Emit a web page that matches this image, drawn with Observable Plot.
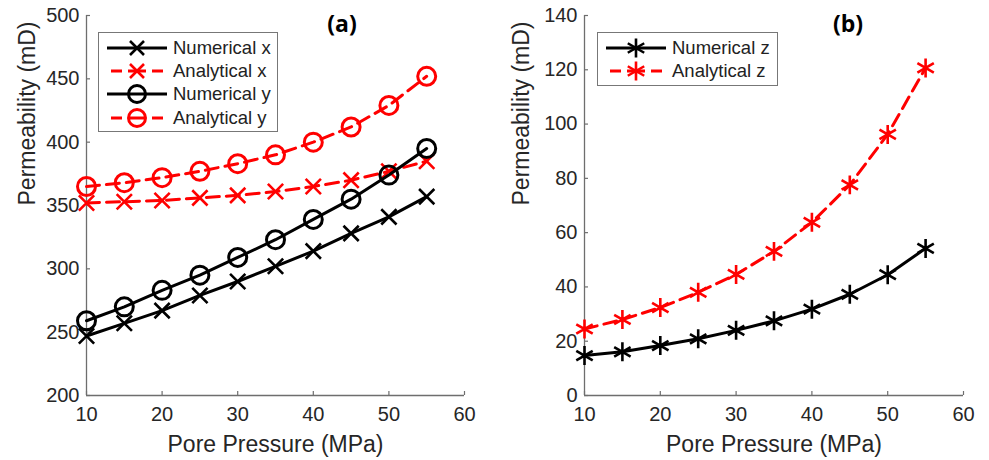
<!DOCTYPE html>
<html>
<head>
<meta charset="utf-8">
<script src="https://cdn.jsdelivr.net/npm/d3@7"></script>
<script src="https://cdn.jsdelivr.net/npm/@observablehq/plot@0.6"></script>
<style>
  body { margin: 0; background: #fff; font-family: "Liberation Sans", Arial, sans-serif; }
  #wrap { position: relative; width: 989px; height: 460px; display: flex; }
  .panel { position: relative; }
  .tag { position: absolute; font-family: "Open Sans", "Liberation Sans", sans-serif; font-weight: bold; font-size: 23px; color: #000; transform: translate(-50%, -50%); white-space: nowrap; }
  .legend { position: absolute; border: 1.5px solid #777; background: #fff; box-sizing: border-box; }
  .legend .row { display: flex; align-items: center; height: 23.3px; font-size: 18.5px; color: #222; white-space: nowrap; }
  .legend svg { display: block; margin: 0 6px 0 8px; }
</style>
</head>
<body>
<div id="wrap"></div>
<script>
// ---- data ----
const pressure = [10, 15, 20, 25, 30, 35, 40, 45, 50, 55];
const numericalX  = [247, 257, 267, 279, 290, 302, 314, 328, 341, 357];
const analyticalX = [352, 353, 354, 356, 358, 361, 365, 370, 377, 385];
const numericalY  = [259, 270, 283, 295, 309, 323, 339, 355, 374, 395];
const analyticalY = [365, 368, 372, 377, 383, 390, 400, 412, 429, 452];
const numericalZ  = [14.7, 16.1, 18.4, 20.9, 24.0, 27.5, 31.8, 37.3, 44.5, 54.2];
const analyticalZ = [24.5, 28.0, 32.4, 38.0, 44.6, 53.1, 63.8, 77.6, 96.2, 120.7];
const xTicks = [10, 20, 30, 40, 50, 60];
const yTicksA = [200, 250, 300, 350, 400, 450, 500];
const yTicksB = [0, 20, 40, 60, 80, 100, 120, 140];

const RED = "#ff0000", BLACK = "#000000", AXIS = "#6e6e6e", TXT = "#262626";
const DASH = "13,7";

function table(ys) { return pressure.map((p, i) => ({p, v: ys[i]})); }

function seriesMarks(ys, color, symbol, dashed, r) {
  const d = table(ys);
  const marks = [
    Plot.line(d, {x: "p", y: "v", stroke: color, strokeWidth: 3, strokeDasharray: dashed ? DASH : null})
  ];
  if (symbol === "circle") {
    marks.push(Plot.dot(d, {x: "p", y: "v", r, stroke: color, strokeWidth: 3, fill: "none"}));
  } else {
    marks.push(Plot.dot(d, {x: "p", y: "v", r, symbol, stroke: color, strokeWidth: 2.6, fill: "none"}));
  }
  return marks;
}

function panel({width, ml, mr, domain, ticks, series}) {
  return Plot.plot({
    width, height: 460,
    marginLeft: ml, marginRight: mr, marginTop: 15, marginBottom: 65,
    style: {fontFamily: "Liberation Sans, Arial, sans-serif", fontSize: "20px", color: TXT, background: "#fff", overflow: "visible"},
    x: {domain: [10, 60], ticks: xTicks, label: null},
    y: {domain, ticks, label: null},
    marks: [
      Plot.ruleY([domain[0]], {stroke: AXIS, strokeWidth: 1.3}),
      Plot.ruleX([10], {stroke: AXIS, strokeWidth: 1.3}),
      Plot.axisX({ticks: xTicks, tickSize: -4, stroke: AXIS, strokeWidth: 1.2, tickPadding: 15, fontSize: 20, fill: TXT, label: null}),
      Plot.axisY({ticks, tickSize: -4, stroke: AXIS, strokeWidth: 1.2, tickPadding: 11, fontSize: 20, fill: TXT, label: null}),
      Plot.text(["Pore Pressure (MPa)"], {frameAnchor: "bottom", dy: 56, fontSize: 23, fill: TXT}),
      Plot.text(["Permeability (mD)"], {frameAnchor: "left", dx: -(ml - 27), rotate: -90, fontSize: 23, fill: TXT}),
      ...series
    ]
  });
}

function legendBox(items, left, top, width) {
  const box = document.createElement("div");
  box.className = "legend";
  box.style.left = left + "px";
  box.style.top = top + "px";
  box.style.width = width + "px";
  box.style.height = (items.length * 23.3 + 7) + "px";
  box.style.paddingTop = "3px";
  for (const it of items) {
    const row = document.createElement("div");
    row.className = "row";
    const c = 30;
    const s = it.symbol === "circle"
      ? `<circle cx="${c}" cy="11" r="8.5" fill="none" stroke="${it.color}" stroke-width="3"/>`
      : it.symbol === "times"
      ? `<path d="M${c-7},4L${c+7},18M${c+7},4L${c-7},18" stroke="${it.color}" stroke-width="2.6"/>`
      : `<path d="M${c},1.5V20.5M${c-8.2},6.25L${c+8.2},15.75M${c+8.2},6.25L${c-8.2},15.75" stroke="${it.color}" stroke-width="2.6"/>`;
    const line = it.dashed
      ? `<path d="M4,11H15M45,11H56" stroke="${it.color}" stroke-width="3"/><path d="M21,11H39" stroke="${it.color}" stroke-width="3"/>`
      : `<path d="M0,11H60" stroke="${it.color}" stroke-width="3"/>`;
    row.innerHTML = `<svg width="60" height="22">${line}${s}</svg><span>${it.label}</span>`;
    box.appendChild(row);
  }
  return box;
}

const wrap = document.getElementById("wrap");

// Panel (a)
const pa = document.createElement("div"); pa.className = "panel"; pa.style.width = "494px";
pa.appendChild(panel({
  width: 494, ml: 86, mr: 30, domain: [200, 500], ticks: yTicksA,
  series: [
    ...seriesMarks(numericalX, BLACK, "times", false, 7),
    ...seriesMarks(analyticalX, RED, "times", true, 7),
    ...seriesMarks(numericalY, BLACK, "circle", false, 9),
    ...seriesMarks(analyticalY, RED, "circle", true, 9)
  ]
}));
pa.appendChild(legendBox([
  {label: "Numerical x", color: BLACK, symbol: "times", dashed: false},
  {label: "Analytical x", color: RED, symbol: "times", dashed: true},
  {label: "Numerical y", color: BLACK, symbol: "circle", dashed: false},
  {label: "Analytical y", color: RED, symbol: "circle", dashed: true}
], 98, 32, 180));
const ta = document.createElement("div"); ta.className = "tag"; ta.textContent = "(a)";
ta.style.left = "342px"; ta.style.top = "23px"; pa.appendChild(ta);
wrap.appendChild(pa);

// Panel (b)
const pb = document.createElement("div"); pb.className = "panel"; pb.style.width = "495px";
pb.appendChild(panel({
  width: 495, ml: 90, mr: 26, domain: [0, 140], ticks: yTicksB,
  series: [
    ...seriesMarks(numericalZ, BLACK, "asterisk", false, 9),
    ...seriesMarks(analyticalZ, RED, "asterisk", true, 9)
  ]
}));
pb.appendChild(legendBox([
  {label: "Numerical z", color: BLACK, symbol: "asterisk", dashed: false},
  {label: "Analytical z", color: RED, symbol: "asterisk", dashed: true}
], 103, 32, 181));
const tb = document.createElement("div"); tb.className = "tag"; tb.textContent = "(b)";
tb.style.left = "354px"; tb.style.top = "23px"; pb.appendChild(tb);
wrap.appendChild(pb);
</script>
</body>
</html>
